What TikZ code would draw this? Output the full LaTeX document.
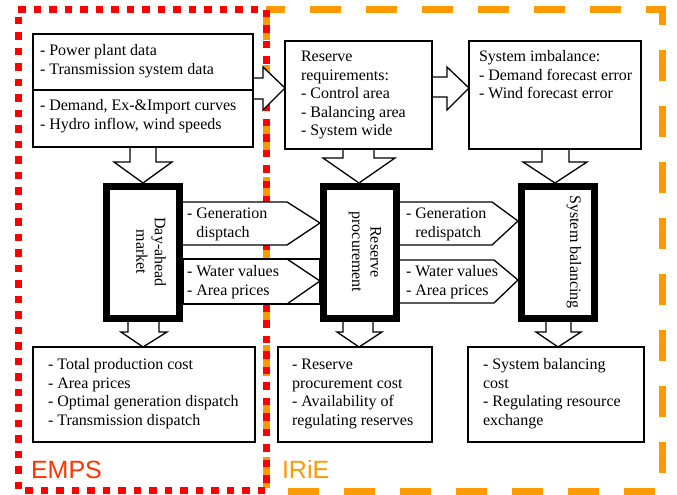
\documentclass[tikz,border=0pt]{standalone}
\usepackage{fontspec}
\setmainfont{Liberation Serif}
\newfontfamily\labelfont{Liberation Sans}
\usetikzlibrary{calc}
\definecolor{regred}{RGB}{255,0,0}
\definecolor{empstext}{RGB}{255,51,0}
\definecolor{irieorange}{RGB}{255,153,0}
\begin{document}
\begin{tikzpicture}[x=1bp,y=-1bp,
  box/.style={draw, line width=1.3bp, fill=white, inner sep=0, outer sep=0, anchor=north west},
  thickbox/.style={draw, line width=7bp, fill=white, inner sep=0, outer sep=0, anchor=north west},
  txt/.style={inner sep=0, outer sep=0, anchor=north west, align=left, font=\fontsize{16bp}{18.5bp}\selectfont},
  rottxt/.style={inner sep=0, outer sep=0, rotate=-90, align=center, font=\fontsize{16bp}{18.5bp}\selectfont},
  blockarrow/.style={draw, line width=1.3bp, fill=white, line join=miter},
  regionlabel/.style={inner sep=0, outer sep=0, anchor=base west, font=\labelfont\fontsize{25bp}{30bp}\selectfont}
]
\useasboundingbox (0,0) rectangle (677,495);
\fill[white] (0,0) rectangle (677,495);

% region borders
\draw[irieorange, line width=7bp, dash pattern=on 31bp off 25bp, dash phase=12bp]
  (266,10) -- (662,10) -- (662,491) -- (266,491) -- cycle;
\draw[regred, line width=7bp, dash pattern=on 7.5bp off 8bp]
  (18,10) -- (266,10) -- (266,490) -- (18,490) -- cycle;
\node[regionlabel, text=empstext] (emps) at (31,478) {EMPS};
\node[regionlabel, text=irieorange] (irie) at (282,478) {IRiE};

% block arrows
\draw[blockarrow] (253,78) -- (263,78) -- (263,67) -- (285,88) -- (263,110) -- (263,99) -- (253,99);
\draw[blockarrow] (432,77) -- (447,77) -- (447,67) -- (469,88) -- (447,110) -- (447,97) -- (432,97);
\draw[blockarrow] (130,147) -- (130,162) -- (114,162) -- (143,183) -- (172,162) -- (156,162) -- (156,147);
\draw[blockarrow] (343,149) -- (343,158) -- (323,158) -- (359,183) -- (395,158) -- (374,158) -- (374,149);
\draw[blockarrow] (542,149) -- (542,162) -- (523,162) -- (555,183) -- (587,162) -- (569,162) -- (569,149);
\draw[blockarrow] (128,322) -- (128,332) -- (121,332) -- (143,347) -- (167,332) -- (159,332) -- (159,322);
\draw[blockarrow] (343,322) -- (343,332) -- (337,332) -- (359,347) -- (382,332) -- (373,332) -- (373,322);
\draw[blockarrow] (546,322) -- (546,332) -- (536,332) -- (558,347) -- (581,332) -- (571,332) -- (571,322);
% horizontal arrows between the blocks
\draw[blockarrow] (183,202) -- (287,202) -- (320,223) -- (287,245) -- (183,245);
\draw[blockarrow] (183,259) rectangle (320,304);
\draw[line width=1.3bp, line join=miter] (287,259) -- (320,281) -- (287,304);
\draw[blockarrow] (400,202) -- (492,202) -- (518,221) -- (492,245) -- (400,245);
\draw[blockarrow] (400,260) -- (494,260) -- (518,280) -- (494,303) -- (400,303);

% input boxes
\node[box, minimum width=220bp, minimum height=113bp] (inA) at (33,34) {};
\draw[line width=1.3bp] ($(inA.north west)+(0,56)$) -- ($(inA.north east)+(0,56)$);
\node[txt] (inAtop) at (40,43) {\strut- Power plant data\\- Transmission system data};
\node[txt] (inAbot) at (40,98) {\strut- Demand, Ex-\&Import curves\\- Hydro inflow, wind speeds};

\node[box, minimum width=147bp, minimum height=108bp] (inB) at (285,41) {};
\node[txt] (inBtext) at (301,49) {\strut Reserve\\requirements:\\- Control area\\- Balancing area\\- System wide};

\node[box, minimum width=172bp, minimum height=108bp] (inC) at (469,41) {};
\node[txt] (inCtext) at (479,49) {\strut System imbalance:\\- Demand forecast error\\- Wind forecast error};

% model blocks
\node[thickbox, minimum width=73bp, minimum height=132bp] (da) at (106.5,186.5) {};
\node[rottxt] (datext) at (151,252) {Day-ahead\\market};
\node[thickbox, minimum width=73bp, minimum height=132bp] (rp) at (323.5,186.5) {};
\node[rottxt] (rptext) at (365,252) {Reserve\\procurement};
\node[thickbox, minimum width=73bp, minimum height=132bp] (sb) at (521.5,186.5) {};
\node[rottxt] (sbtext) at (574,252) {System balancing};

% arrow labels
\node[txt] (a1text) at (187,206) {\strut- Generation\\\hphantom{-}\ disptach};
\node[txt] (a2text) at (187,264) {\strut- Water values\\- Area prices};
\node[txt] (a3text) at (406,206) {\strut- Generation\\\hphantom{-}\ redispatch};
\node[txt] (a4text) at (406,264) {\strut- Water values\\- Area prices};

% output boxes
\node[box, minimum width=222bp, minimum height=95bp] (outD) at (33,347) {};
\node[txt] (outDtext) at (48,357) {\strut- Total production cost\\- Area prices\\- Optimal generation dispatch\\- Transmission dispatch};
\node[box, minimum width=154bp, minimum height=95bp] (outE) at (278,347) {};
\node[txt] (outEtext) at (292,357) {\strut- Reserve\\procurement cost\\- Availability of\\regulating reserves};
\node[box, minimum width=176bp, minimum height=95bp] (outF) at (468,347) {};
\node[txt] (outFtext) at (483,357) {\strut- System balancing\\cost\\- Regulating resource\\exchange};
\end{tikzpicture}
\end{document}
